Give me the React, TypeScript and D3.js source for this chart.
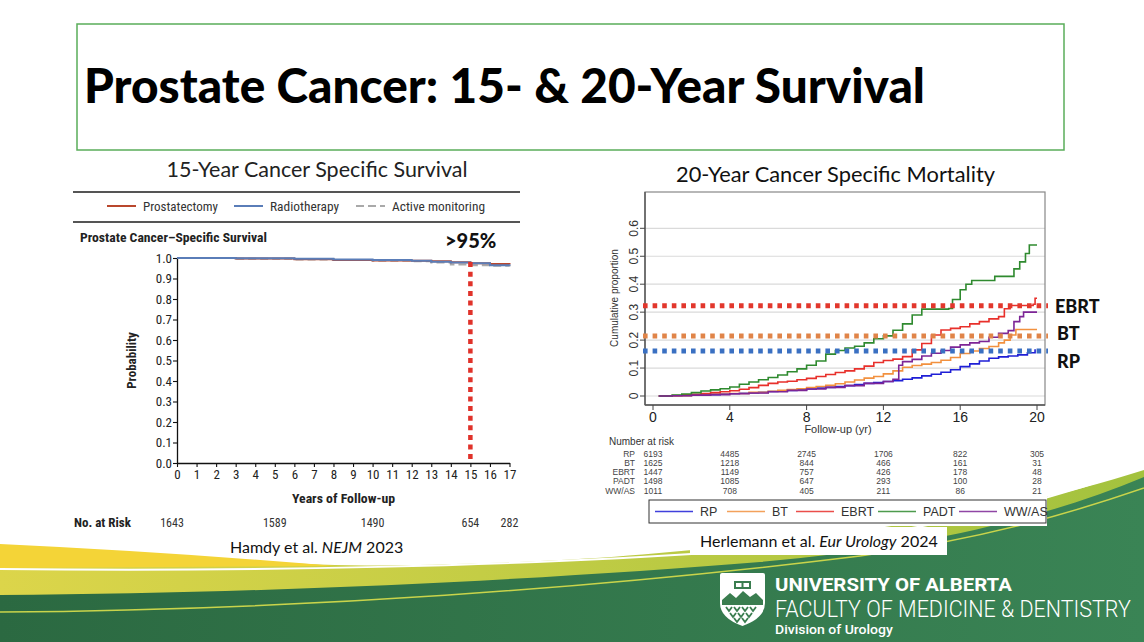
import React, { useEffect, useRef } from "react";
import * as d3 from "d3";

// ---- 15-year cancer-specific survival (Hamdy et al.) ----
const leftYears = [0, 3, 6, 8, 10, 12, 13, 14, 15, 16, 17];
const prostatectomy = [1.0, 0.998, 0.994, 0.99, 0.988, 0.987, 0.984, 0.979, 0.975, 0.971, 0.97];
const radiotherapy = [1.0, 0.999, 0.996, 0.993, 0.99, 0.987, 0.982, 0.978, 0.974, 0.965, 0.962];
const activeMonitoring = [1.0, 0.996, 0.993, 0.99, 0.987, 0.984, 0.978, 0.968, 0.965, 0.962, 0.958];
const leftXTicks = [0, 1, 2, 3, 4, 5, 6, 7, 8, 9, 10, 11, 12, 13, 14, 15, 16, 17];
const leftYTicks = [0, 0.1, 0.2, 0.3, 0.4, 0.5, 0.6, 0.7, 0.8, 0.9, 1.0];
const leftRiskYears = [0, 5, 10, 15, 17];
const leftRisk = [1643, 1589, 1490, 654, 282];
const markerYear = 15;

// ---- 20-year cancer-specific mortality (Herlemann et al.) ----
const rpTime = [0.3, 1, 1.5, 2, 2.5, 3, 3.5, 4, 4.5, 5, 5.5, 6, 6.5, 7, 7.5, 8, 8.5, 9, 9.5, 10, 10.5, 11, 11.5, 12, 12.5, 13, 13.5, 14, 14.5, 15, 15.5, 16, 16.5, 17, 17.5, 18, 18.5, 19, 19.5, 19.9];
const rpValue = [0, 0.001, 0.002, 0.003, 0.004, 0.005, 0.007, 0.008, 0.01, 0.011, 0.013, 0.016, 0.018, 0.02, 0.022, 0.025, 0.028, 0.031, 0.034, 0.037, 0.041, 0.045, 0.048, 0.052, 0.055, 0.06, 0.065, 0.072, 0.078, 0.085, 0.094, 0.105, 0.115, 0.125, 0.135, 0.14, 0.143, 0.147, 0.155, 0.167];
const btTime = [0.3, 1, 2, 3, 4, 5, 6, 6.5, 7, 7.5, 8, 8.5, 9, 9.5, 10, 10.5, 11, 11.5, 12, 12.5, 13, 13.5, 14, 14.5, 15, 15.5, 16, 16.5, 17, 17.5, 18, 18.3, 18.6, 18.9, 20];
const btValue = [0, 0.001, 0.003, 0.006, 0.009, 0.013, 0.017, 0.02, 0.023, 0.026, 0.03, 0.034, 0.038, 0.044, 0.05, 0.057, 0.064, 0.07, 0.079, 0.09, 0.103, 0.109, 0.114, 0.12, 0.128, 0.138, 0.152, 0.161, 0.17, 0.177, 0.19, 0.2, 0.218, 0.238, 0.238];
const ebrtTime = [0.3, 1, 1.5, 2, 2.5, 3, 3.5, 4, 4.5, 5, 5.5, 6, 6.5, 7, 7.5, 8, 8.5, 9, 9.5, 10, 10.5, 11, 11.5, 12, 12.5, 13, 13.5, 14, 14.5, 15, 15.5, 16, 16.5, 17, 17.5, 18, 18.3, 18.6, 19.8, 19.9, 20];
const ebrtValue = [0, 0.002, 0.004, 0.006, 0.009, 0.012, 0.015, 0.019, 0.024, 0.03, 0.038, 0.045, 0.05, 0.053, 0.058, 0.063, 0.07, 0.077, 0.084, 0.09, 0.097, 0.107, 0.12, 0.127, 0.132, 0.141, 0.165, 0.188, 0.218, 0.236, 0.242, 0.248, 0.258, 0.266, 0.276, 0.284, 0.312, 0.324, 0.328, 0.35, 0.35];
const padtTime = [0.3, 1, 1.5, 2, 2.5, 3, 3.5, 4, 4.5, 5, 5.5, 6, 6.5, 7, 7.5, 8, 8.5, 9, 9.5, 10, 10.5, 11, 11.5, 12, 12.5, 13, 13.5, 14, 15.4, 15.6, 16, 16.3, 16.6, 17.8, 18.8, 19.1, 19.4, 19.6, 20];
const padtValue = [0, 0.003, 0.007, 0.012, 0.018, 0.022, 0.026, 0.032, 0.042, 0.05, 0.058, 0.066, 0.075, 0.087, 0.097, 0.11, 0.125, 0.15, 0.163, 0.172, 0.178, 0.19, 0.205, 0.215, 0.235, 0.258, 0.29, 0.311, 0.313, 0.345, 0.38, 0.4, 0.413, 0.428, 0.455, 0.48, 0.51, 0.54, 0.54];
const wwasTime = [0.3, 1, 2, 3, 4, 5, 6, 7, 8, 9, 10, 11, 12, 12.5, 12.8, 13, 13.5, 14, 14.5, 15, 15.5, 16, 16.5, 17, 17.5, 18, 18.5, 18.8, 19.1, 19.3, 20];
const wwasValue = [0, 0.001, 0.003, 0.005, 0.008, 0.011, 0.015, 0.02, 0.025, 0.031, 0.037, 0.045, 0.052, 0.06, 0.11, 0.123, 0.131, 0.143, 0.153, 0.163, 0.175, 0.183, 0.19, 0.195, 0.21, 0.224, 0.234, 0.266, 0.284, 0.3, 0.3];
const rightXTicks = [0, 4, 8, 12, 16, 20];
const rightYTicks = [0, 0.1, 0.2, 0.3, 0.4, 0.5, 0.6];
const groups = ["RP", "BT", "EBRT", "PADT", "WW/AS"];
const groupColors = ["#1f1fd6", "#f2913f", "#e8302b", "#2f8a2f", "#7d2596"];
const riskRP = [6193, 4485, 2745, 1706, 822, 305];
const riskBT = [1625, 1218, 844, 466, 161, 31];
const riskEBRT = [1447, 1149, 757, 426, 178, 48];
const riskPADT = [1498, 1085, 647, 293, 100, 28];
const riskWWAS = [1011, 708, 405, 211, 86, 21];
const refLabels = ["EBRT", "BT", "RP"];
const refValues = [0.323, 0.215, 0.161];
const refColors = ["#e2372c", "#e08448", "#3a70c2"];

const slideFont = "Lato, 'Open Sans', sans-serif";
const nejmFont = "'Liberation Sans Narrow', 'Roboto Condensed', Lato, sans-serif";
const rFont = "'Liberation Sans', Arial, sans-serif";

const zip = (t: number[], v: number[]) => t.map((d, i) => [d, v[i]] as [number, number]);

const App: React.FC = () => {
  const svgRef = useRef<SVGSVGElement | null>(null);

  useEffect(() => {
    const svg = d3.select(svgRef.current);
    svg.selectAll("*").remove();

    const defs = svg.append("defs");
    const gYg = defs.append("linearGradient").attr("id", "yg").attr("x1", 0).attr("x2", 1);
    gYg.append("stop").attr("offset", 0).attr("stop-color", "#dcd54a");
    gYg.append("stop").attr("offset", 1).attr("stop-color", "#a3c23e");
    const gDk = defs.append("linearGradient").attr("id", "dk").attr("x1", 0).attr("x2", 1);
    gDk.append("stop").attr("offset", 0).attr("stop-color", "#2b6941");
    gDk.append("stop").attr("offset", 1).attr("stop-color", "#3a8455");

    svg.append("rect").attr("width", 1144).attr("height", 642).attr("fill", "white");

    // bottom swoosh
    const sw = svg.append("g");
    sw.append("path")
      .attr("d", "M0,545 C180,556 300,568 420,565 C560,562 640,556 740,545 C880,530 1020,510 1144,470 L1144,642 L0,642 Z")
      .attr("fill", "url(#yg)");
    sw.append("path")
      .attr("d", "M0,544 Q170,552 335,566 Q170,567 0,568 Z")
      .attr("fill", "#f4d437");
    sw.append("path")
      .attr("d", "M0,569 C250,572 520,566 720,552 C900,538 1040,505 1144,466")
      .attr("fill", "none").attr("stroke", "white").attr("stroke-width", 2);
    sw.append("path")
      .attr("d", "M0,595 C300,593 560,578 760,562 C920,548 1040,520 1144,477 L1144,642 L0,642 Z")
      .attr("fill", "url(#dk)");
    sw.append("path")
      .attr("d", "M0,612 C300,610 600,588 860,556 C990,538 1080,510 1144,488")
      .attr("fill", "none").attr("stroke", "#c9d44b").attr("stroke-width", 1.5);

    // title box
    svg.append("rect")
      .attr("x", 77).attr("y", 24).attr("width", 987).attr("height", 126)
      .attr("fill", "white").attr("stroke", "#5aad5a").attr("stroke-width", 1.5);
    svg.append("text")
      .attr("x", 84).attr("y", 103)
      .attr("font-family", slideFont).attr("font-weight", 900).attr("font-size", 48)
      .attr("textLength", 841).attr("lengthAdjust", "spacingAndGlyphs")
      .text("Prostate Cancer: 15- & 20-Year Survival");

    // ================= left chart =================
    const xL = d3.scaleLinear().domain([0, 17]).range([177, 509.5]);
    const yL = d3.scaleLinear().domain([0, 1]).range([463, 258]);
    const left = svg.append("g").attr("fill", "#222");

    left.append("text")
      .attr("x", 317).attr("y", 177).attr("text-anchor", "middle")
      .attr("font-family", slideFont).attr("font-size", 21)
      .attr("textLength", 301).attr("lengthAdjust", "spacingAndGlyphs")
      .text("15-Year Cancer Specific Survival");

    [192, 222].forEach((y) =>
      left.append("line").attr("x1", 73).attr("x2", 520).attr("y1", y).attr("y2", y)
        .attr("stroke", "#555").attr("stroke-width", 2)
    );

    const leftLegend = [
      { label: "Prostatectomy", color: "#b9472d", dash: null, x: 107, w: 75 },
      { label: "Radiotherapy", color: "#5a7db8", dash: null, x: 234, w: 69 },
      { label: "Active monitoring", color: "#a9a9a9", dash: "8,4", x: 356, w: 93 },
    ];
    leftLegend.forEach((d) => {
      left.append("line").attr("x1", d.x).attr("x2", d.x + 29).attr("y1", 206).attr("y2", 206)
        .attr("stroke", d.color).attr("stroke-width", 2).attr("stroke-dasharray", d.dash);
      left.append("text").attr("x", d.x + 36).attr("y", 210.5)
        .attr("font-family", nejmFont).attr("font-size", 13).attr("fill", "#333")
        .attr("textLength", d.w).attr("lengthAdjust", "spacingAndGlyphs")
        .text(d.label);
    });

    left.append("text").attr("x", 80).attr("y", 242)
      .attr("font-family", nejmFont).attr("font-weight", 700).attr("font-size", 13)
      .attr("textLength", 187).attr("lengthAdjust", "spacingAndGlyphs")
      .text("Prostate Cancer\u2013Specific Survival");
    left.append("text").attr("x", 445).attr("y", 248)
      .attr("font-family", slideFont).attr("font-weight", 900).attr("font-size", 20)
      .attr("fill", "#111")
      .text(">95%");

    const yAxisL = left.append("g").attr("transform", `translate(${xL(0)},0)`)
      .call(d3.axisLeft(yL).tickValues(leftYTicks).tickSize(4).tickSizeOuter(0).tickPadding(1).tickFormat(d3.format(".1f")));
    const xAxisL = left.append("g").attr("transform", `translate(0,${yL(0)})`)
      .call(d3.axisBottom(xL).tickValues(leftXTicks).tickSize(4).tickSizeOuter(0).tickPadding(3).tickFormat(d3.format("d")));
    [yAxisL, xAxisL].forEach((a) => {
      a.selectAll("path").attr("stroke", "#111").attr("stroke-width", 1.3);
      a.selectAll("line").attr("stroke", "#111").attr("stroke-width", 1.1);
      a.selectAll("text").attr("font-family", nejmFont).attr("font-size", 13).attr("fill", "#222");
    });

    left.append("text")
      .attr("transform", `translate(${136},${(yL(0) + yL(1)) / 2}) rotate(-90)`)
      .attr("text-anchor", "middle")
      .attr("font-family", nejmFont).attr("font-weight", 700).attr("font-size", 13)
      .text("Probability");
    left.append("text").attr("x", 343.5).attr("y", 503).attr("text-anchor", "middle")
      .attr("font-family", nejmFont).attr("font-weight", 700).attr("font-size", 13)
      .attr("textLength", 103).attr("lengthAdjust", "spacingAndGlyphs")
      .text("Years of Follow-up");

    left.append("text").attr("x", 74).attr("y", 527)
      .attr("font-family", nejmFont).attr("font-weight", 700).attr("font-size", 13)
      .text("No. at Risk");
    left.selectAll(".riskL").data(leftRisk).enter().append("text")
      .attr("x", (_d, i) => xL(leftRiskYears[i]) - (i === 0 ? 5 : 0)).attr("y", 527)
      .attr("text-anchor", "middle")
      .attr("font-family", nejmFont).attr("font-size", 12).attr("fill", "#333")
      .text((d) => d);

    const lineL = d3.line<[number, number]>()
      .x((d) => xL(d[0])).y((d) => yL(d[1])).curve(d3.curveStepAfter);
    left.append("path").attr("d", lineL(zip(leftYears, activeMonitoring)))
      .attr("fill", "none").attr("stroke", "#a9a9a9").attr("stroke-width", 2).attr("stroke-dasharray", "8,4");
    left.append("path").attr("d", lineL(zip(leftYears, prostatectomy)))
      .attr("fill", "none").attr("stroke", "#b9472d").attr("stroke-width", 2);
    left.append("path").attr("d", lineL(zip(leftYears, radiotherapy)))
      .attr("fill", "none").attr("stroke", "#5a7db8").attr("stroke-width", 2);

    left.append("line")
      .attr("x1", xL(markerYear)).attr("x2", xL(markerYear))
      .attr("y1", yL(0.98)).attr("y2", yL(0))
      .attr("stroke", "#e0322a").attr("stroke-width", 4.5).attr("stroke-dasharray", "5,4.6");

    left.append("text").attr("x", 230).attr("y", 553)
      .attr("font-family", slideFont).attr("font-size", 16).attr("fill", "#111")
      .call((t) => {
        t.append("tspan").text("Hamdy et al.  ");
        t.append("tspan").attr("font-style", "italic").text("NEJM");
        t.append("tspan").text(" 2023");
      });

    // ================= right chart =================
    const xR = d3.scaleLinear().domain([0, 20]).range([653, 1037]);
    const yR = d3.scaleLinear().domain([0, 0.6]).range([396, 228.3]);
    const right = svg.append("g");

    right.append("rect").attr("x", 600).attr("y", 160).attr("width", 447).attr("height", 366).attr("fill", "white");
    right.append("rect").attr("x", 690).attr("y", 527).attr("width", 257).attr("height", 28).attr("fill", "white");

    right.append("text").attr("x", 835.5).attr("y", 182).attr("text-anchor", "middle")
      .attr("font-family", slideFont).attr("font-size", 21).attr("fill", "#111")
      .attr("textLength", 319).attr("lengthAdjust", "spacingAndGlyphs")
      .text("20-Year Cancer Specific Mortality");

    const fx0 = 645, fx1 = 1045, fy0 = 192, fy1 = 405;
    right.selectAll(".grid").data(rightYTicks).enter().append("line")
      .attr("x1", fx0).attr("x2", fx1).attr("y1", (d) => yR(d)).attr("y2", (d) => yR(d))
      .attr("stroke", "#dadada").attr("stroke-width", 1.2);
    right.append("rect").attr("x", fx0).attr("y", fy0).attr("width", fx1 - fx0).attr("height", fy1 - fy0)
      .attr("fill", "none").attr("stroke", "#888").attr("stroke-width", 1.2);
    right.append("line").attr("x1", fx0).attr("x2", fx0).attr("y1", fy0).attr("y2", fy1)
      .attr("stroke", "#555").attr("stroke-width", 1.4);
    right.append("line").attr("x1", fx0).attr("x2", fx1).attr("y1", fy1).attr("y2", fy1)
      .attr("stroke", "#555").attr("stroke-width", 1.4);

    right.selectAll(".yt").data(rightYTicks).enter().append("line")
      .attr("x1", fx0 - 5).attr("x2", fx0).attr("y1", (d) => yR(d)).attr("y2", (d) => yR(d))
      .attr("stroke", "#444");
    right.selectAll(".yl").data(rightYTicks).enter().append("text")
      .attr("transform", (d) => `translate(${638},${yR(d)}) rotate(-90)`)
      .attr("text-anchor", "middle")
      .attr("font-family", rFont).attr("font-size", 12).attr("fill", "#333")
      .text((d) => (d === 0 ? "0" : d3.format(".1f")(d)));
    right.selectAll(".xt").data(rightXTicks).enter().append("line")
      .attr("x1", (d) => xR(d)).attr("x2", (d) => xR(d)).attr("y1", fy1).attr("y2", fy1 + 5)
      .attr("stroke", "#444");
    right.selectAll(".xl").data(rightXTicks).enter().append("text")
      .attr("x", (d) => xR(d)).attr("y", 421.5).attr("text-anchor", "middle")
      .attr("font-family", rFont).attr("font-size", 14).attr("fill", "#222")
      .text((d) => d);

    right.append("text")
      .attr("transform", `translate(${618},${298}) rotate(-90)`)
      .attr("text-anchor", "middle")
      .attr("font-family", rFont).attr("font-size", 10).attr("fill", "#333")
      .text("Cumulative proportion");
    right.append("text").attr("x", 838).attr("y", 433).attr("text-anchor", "middle")
      .attr("font-family", rFont).attr("font-size", 11).attr("fill", "#333")
      .text("Follow-up (yr)");

    right.append("text").attr("x", 609).attr("y", 444.5)
      .attr("font-family", rFont).attr("font-size", 10).attr("fill", "#333")
      .text("Number at risk");
    const riskRows = [riskRP, riskBT, riskEBRT, riskPADT, riskWWAS];
    riskRows.forEach((row, r) => {
      const yy = 456.5 + r * 9.3;
      right.append("text").attr("x", 635).attr("y", yy).attr("text-anchor", "end")
        .attr("font-family", rFont).attr("font-size", 8.5).attr("fill", "#444")
        .text(groups[r]);
      row.forEach((n, i) => {
        right.append("text").attr("x", xR(rightXTicks[i])).attr("y", yy).attr("text-anchor", "middle")
          .attr("font-family", rFont).attr("font-size", 8.5).attr("fill", "#444")
          .text(n);
      });
    });

    const lineR = d3.line<[number, number]>()
      .x((d) => xR(d[0])).y((d) => yR(d[1])).curve(d3.curveStepAfter);
    const series = [
      zip(rpTime, rpValue),
      zip(btTime, btValue),
      zip(ebrtTime, ebrtValue),
      zip(padtTime, padtValue),
      zip(wwasTime, wwasValue),
    ];
    series.forEach((s, i) => {
      right.append("path").attr("d", lineR(s))
        .attr("fill", "none").attr("stroke", groupColors[i]).attr("stroke-width", 1.6);
    });

    // dotted reference levels; labels sit a little off their lines
    const labelShift = [7, 4, 17];
    refValues.forEach((v, i) => {
      right.append("line").attr("x1", 643).attr("x2", 1048).attr("y1", yR(v)).attr("y2", yR(v))
        .attr("stroke", refColors[i]).attr("stroke-width", 5).attr("stroke-dasharray", "4.6,5");
      right.append("text").attr("x", i === 0 ? 1055 : 1057).attr("y", yR(v) + labelShift[i])
        .attr("font-family", slideFont).attr("font-weight", 900).attr("font-size", 18).attr("fill", "#111")
        .text(refLabels[i]);
    });

    // legend box
    right.append("rect").attr("x", 649).attr("y", 500).attr("width", 397).attr("height", 23)
      .attr("fill", "white").attr("stroke", "#333").attr("stroke-width", 1);
    const legX = [655, 727, 796, 878, 959];
    groups.forEach((g, i) => {
      right.append("line").attr("x1", legX[i]).attr("x2", legX[i] + 38).attr("y1", 511.5).attr("y2", 511.5)
        .attr("stroke", groupColors[i]).attr("stroke-width", 1.6).attr("opacity", 0.85);
      right.append("text").attr("x", legX[i] + 45).attr("y", 516)
        .attr("font-family", rFont).attr("font-size", 12.5).attr("fill", "#333")
        .text(g);
    });

    right.append("text").attr("x", 700).attr("y", 547)
      .attr("font-family", slideFont).attr("font-size", 16).attr("fill", "#111")
      .call((t) => {
        t.append("tspan").text("Herlemann et al.  ");
        t.append("tspan").attr("font-style", "italic").text("Eur Urology");
        t.append("tspan").text(" 2024");
      });

    // ================= faculty logo =================
    const logo = svg.append("g");
    logo.append("path")
      .attr("d", "M720,575 Q720,573 722,573 L763,573 Q765,573 765,575 L765,603 Q765,618 742.5,626 Q720,618 720,603 Z")
      .attr("fill", "white");
    logo.append("rect").attr("x", 734).attr("y", 581).attr("width", 17).attr("height", 8).attr("fill", "#3a7d4f");
    logo.append("rect").attr("x", 736).attr("y", 583).attr("width", 5.5).attr("height", 4).attr("fill", "white");
    logo.append("rect").attr("x", 743.5).attr("y", 583).attr("width", 5.5).attr("height", 4).attr("fill", "white");
    logo.append("path")
      .attr("d", "M722,600 L730,593 L736,598 L743,591 L750,597 L756,593 L763,600 L763,605 L722,605 Z")
      .attr("fill", "#3a7d4f");
    const wheat = [
      [729, 609], [737, 609], [745, 609], [753, 609],
      [733, 615], [741, 615], [749, 615],
      [737, 620], [745, 620],
    ];
    wheat.forEach(([cx, cy]) => {
      logo.append("path")
        .attr("d", `M${cx - 3},${cy - 2} L${cx},${cy + 2} L${cx + 3},${cy - 2}`)
        .attr("fill", "none").attr("stroke", "#3a7d4f").attr("stroke-width", 1.8);
    });

    // condensed wordmark: squeeze each line horizontally to its width
    const wordmark = [
      { text: "UNIVERSITY OF ALBERTA", y: 591, size: 18.5, weight: 700, w: 237 },
      { text: "FACULTY OF MEDICINE & DENTISTRY", y: 617, size: 24, weight: 300, w: 356 },
      { text: "Division of Urology", y: 634, size: 13.5, weight: 500, w: 118 },
    ];
    wordmark.forEach((m) => {
      const t = logo.append("text")
        .attr("font-family", "Roboto, sans-serif").attr("font-weight", m.weight)
        .attr("font-size", m.size).attr("fill", "white")
        .text(m.text);
      const natural = (t.node() as SVGTextElement).getComputedTextLength() || m.w;
      t.attr("transform", `translate(775,${m.y}) scale(${m.w / natural},1)`);
    });
  }, []);

  return (
    <svg
      ref={svgRef}
      width={1144}
      height={642}
      style={{ position: "absolute", left: 0, top: 0, display: "block" }}
    ></svg>
  );
};

export default App;
